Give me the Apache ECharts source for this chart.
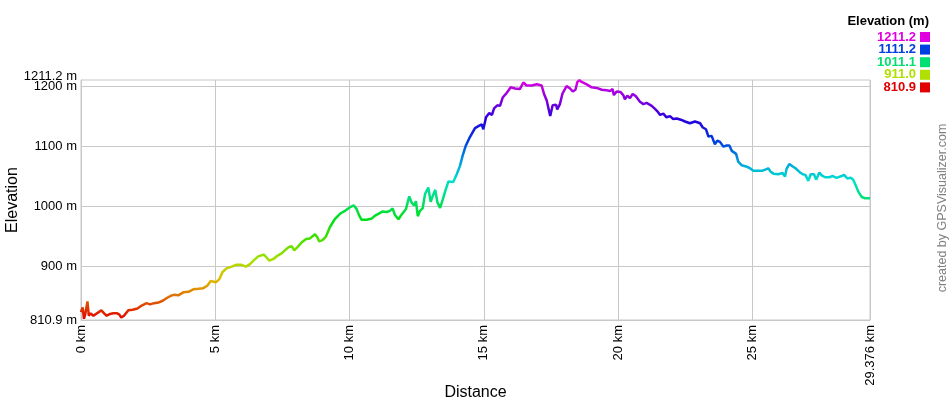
<!DOCTYPE html>
<html>
<head>
<meta charset="utf-8">
<script src="https://cdn.jsdelivr.net/npm/echarts@6/dist/echarts.min.js"></script>
<style>html,body{margin:0;padding:0;background:#fff}#c{width:950px;height:400px}</style>
</head>
<body>
<div id="c"></div>
<script>
var distKm = [0.0,0.06,0.11,0.16,0.24,0.29,0.36,0.46,0.53,0.66,0.76,0.86,0.96,1.08,1.2,1.35,1.43,1.5,1.6,1.76,1.92,2.1,2.26,2.44,2.57,2.72,2.88,3.04,3.21,3.38,3.5,3.62,3.81,4.0,4.18,4.37,4.55,4.7,4.83,4.9,5.03,5.15,5.27,5.42,5.61,5.79,5.98,6.14,6.29,6.42,6.6,6.81,6.89,7.01,7.18,7.31,7.47,7.59,7.72,7.84,7.94,8.05,8.21,8.38,8.52,8.61,8.71,8.8,8.87,8.99,9.12,9.27,9.45,9.67,9.83,10.02,10.16,10.26,10.36,10.45,10.64,10.82,10.95,11.07,11.23,11.38,11.5,11.6,11.69,11.82,11.94,12.1,12.22,12.31,12.4,12.47,12.54,12.62,12.72,12.81,12.93,13.02,13.09,13.19,13.27,13.37,13.47,13.57,13.68,13.86,13.99,14.11,14.21,14.33,14.48,14.67,14.83,14.92,14.98,15.08,15.2,15.3,15.38,15.5,15.6,15.7,15.82,16.0,16.16,16.34,16.47,16.59,16.78,16.97,17.04,17.15,17.24,17.34,17.41,17.47,17.56,17.69,17.73,17.83,17.93,18.08,18.21,18.31,18.41,18.48,18.56,18.64,18.83,19.01,19.2,19.39,19.57,19.7,19.79,19.84,19.94,20.0,20.09,20.19,20.25,20.34,20.44,20.54,20.66,20.81,20.94,21.06,21.13,21.25,21.37,21.46,21.56,21.68,21.8,21.93,22.05,22.18,22.33,22.49,22.67,22.86,23.05,23.15,23.27,23.36,23.48,23.6,23.69,23.79,23.92,24.04,24.14,24.23,24.39,24.47,24.6,24.76,24.91,25.03,25.22,25.38,25.5,25.59,25.68,25.78,25.96,26.12,26.21,26.27,26.37,26.5,26.6,26.67,26.77,26.87,26.97,27.08,27.17,27.29,27.37,27.49,27.58,27.7,27.86,27.99,28.13,28.32,28.41,28.53,28.66,28.75,28.85,28.94,29.07,29.19,29.376];
var elevM = [824,832,813,821,842,818,822,818,815,824,827,822,818,821,822,822,820,815,818,827,828,830,835,839,837,839,840,843,848,852,853,852,857,858,862,863,864,868,876,878,874,879,891,897,900,903,903,900,904,910,917,920,916,910,913,918,922,927,932,934,927,932,940,946,947,950,954,949,942,944,950,966,979,989,993,999,1002,996,985,978,978,980,985,988,992,991,993,997,986,979,987,996,1017,1007,1002,1009,984,993,997,1021,1032,1008,1017,1028,1007,998,1012,1027,1042,1041,1054,1068,1085,1102,1116,1131,1135,1137,1129,1149,1156,1153,1164,1169,1168,1182,1188,1199,1197,1196,1207,1202,1202,1204,1207,1202,1188,1177,1163,1151,1169,1170,1162,1171,1189,1201,1197,1192,1195,1208,1211,1208,1204,1199,1198,1195,1194,1193,1196,1186,1192,1195,1191,1186,1179,1185,1181,1188,1184,1175,1171,1173,1175,1168,1163,1159,1153,1155,1149,1151,1146,1147,1145,1142,1139,1142,1139,1132,1129,1117,1118,1104,1110,1108,1100,1102,1102,1093,1088,1075,1069,1067,1064,1060,1060,1060,1062,1064,1058,1055,1054,1056,1050,1063,1071,1067,1064,1066,1057,1054,1053,1043,1054,1054,1045,1057,1052,1049,1049,1051,1048,1051,1053,1047,1048,1045,1035,1025,1016,1014,1014];
var yTicks = [810.9, 900, 1000, 1100, 1200];
var yTopTick = [1211.2];
var legendVals = ['1211.2', '1111.2', '1011.1', '911.0', '810.9'];
var legendCols = ['#e000e0', '#0040e0', '#00e070', '#b0e000', '#e00000'];
var rampCols = ['#e00000','#e05d00','#e0bb00','#a8e000','#4be000','#00e013','#00e070','#00e0cd','#0095e0','#0038e0','#2500e0','#8300e0','#e000e0'];
var yMin = 810.9, yMax = 1211.2, xMax = 29.376;

var data = distKm.map(function (d, i) { return [d, elevM[i]]; });
var FONT = 'Liberation Sans, Arial, sans-serif';

var graphics = [{
  type: 'text', right: 21, top: 15,
  style: { text: 'Elevation (m)', font: 'bold 13px ' + FONT, fill: '#000' }
}];
legendVals.forEach(function (v, i) {
  var cy = 37 + i * 12.6;
  graphics.push({ type: 'text', x: 916, y: cy, style: { text: v, font: 'bold 13px ' + FONT, fill: legendCols[i], align: 'right', verticalAlign: 'middle' } });
  graphics.push({ type: 'rect', shape: { x: 920, y: cy - 5, width: 10, height: 10 }, style: { fill: legendCols[i] } });
});
graphics.push({
  type: 'text', x: 943, y: 208, rotation: Math.PI / 2,
  style: { text: 'created by GPSVisualizer.com', font: '12.5px ' + FONT, fill: '#808080', align: 'center', verticalAlign: 'middle' }
});

function yFmt(v) {
  if (Math.abs(v - yMin) < 1e-6) return yMin.toFixed(1) + ' m';
  if (Math.abs(v - yMax) < 1e-6) return yMax.toFixed(1) + ' m';
  return Math.round(v) + ' m';
}

var chart = echarts.init(document.getElementById('c'), null, { renderer: 'canvas' });
chart.setOption({
  animation: false,
  backgroundColor: '#fff',
  textStyle: { fontFamily: FONT },
  grid: { left: 81, right: 80, top: 80, bottom: 80, show: true, borderColor: '#c8c8c8', borderWidth: 1, containLabel: false, outerBoundsMode: 'none' },
  xAxis: {
    type: 'value', min: 0, max: xMax, interval: 5,
    name: 'Distance', nameLocation: 'middle', nameGap: 65, nameMoveOverlap: false,
    nameTextStyle: { fontSize: 16, color: '#000', fontFamily: FONT },
    axisLine: { show: true, lineStyle: { color: '#c8c8c8' } },
    axisTick: { show: false },
    axisLabel: { rotate: 90, fontSize: 13, color: '#000', margin: 5, fontFamily: FONT, showMaxLabel: true, showMinLabel: true,
      formatter: function (v) { return (Math.abs(v - xMax) < 1e-6 ? xMax.toFixed(3) : v) + ' km'; } },
    splitLine: { show: true, lineStyle: { color: '#c8c8c8', width: 1 } }
  },
  yAxis: [{
    type: 'value', min: yMin, max: yMax,
    name: 'Elevation', nameLocation: 'middle', nameGap: 60, nameRotate: 90, nameMoveOverlap: false,
    nameTextStyle: { fontSize: 16, color: '#000', fontFamily: FONT },
    axisLine: { show: true, lineStyle: { color: '#c8c8c8' } },
    axisTick: { show: false, customValues: yTicks },
    axisLabel: { fontSize: 13, color: '#000', margin: 4, fontFamily: FONT, customValues: yTicks,
      showMaxLabel: true, showMinLabel: true, hideOverlap: false, formatter: yFmt },
    splitLine: { show: true, lineStyle: { color: '#c8c8c8', width: 1 } }
  }, {
    type: 'value', min: yMin, max: yMax, position: 'left',
    axisLine: { show: false }, axisTick: { show: false, customValues: yTopTick },
    splitLine: { show: false },
    axisLabel: { fontSize: 13, color: '#000', margin: 4, fontFamily: FONT, customValues: yTopTick,
      showMaxLabel: true, formatter: function (v) { return '{t|' + yFmt(v) + '}'; },
      rich: { t: { fontSize: 13, color: '#000', fontFamily: FONT, padding: [0, 0, 8, 0] } } }
  }],
  visualMap: {
    type: 'continuous', show: false, dimension: 1, seriesIndex: 0,
    min: yMin, max: yMax, inRange: { color: rampCols }
  },
  series: [{
    type: 'line', data: data, showSymbol: false, symbol: 'none', yAxisIndex: 0,
    lineStyle: { width: 2.5 }
  }],
  graphic: graphics
});
</script>
</body>
</html>
